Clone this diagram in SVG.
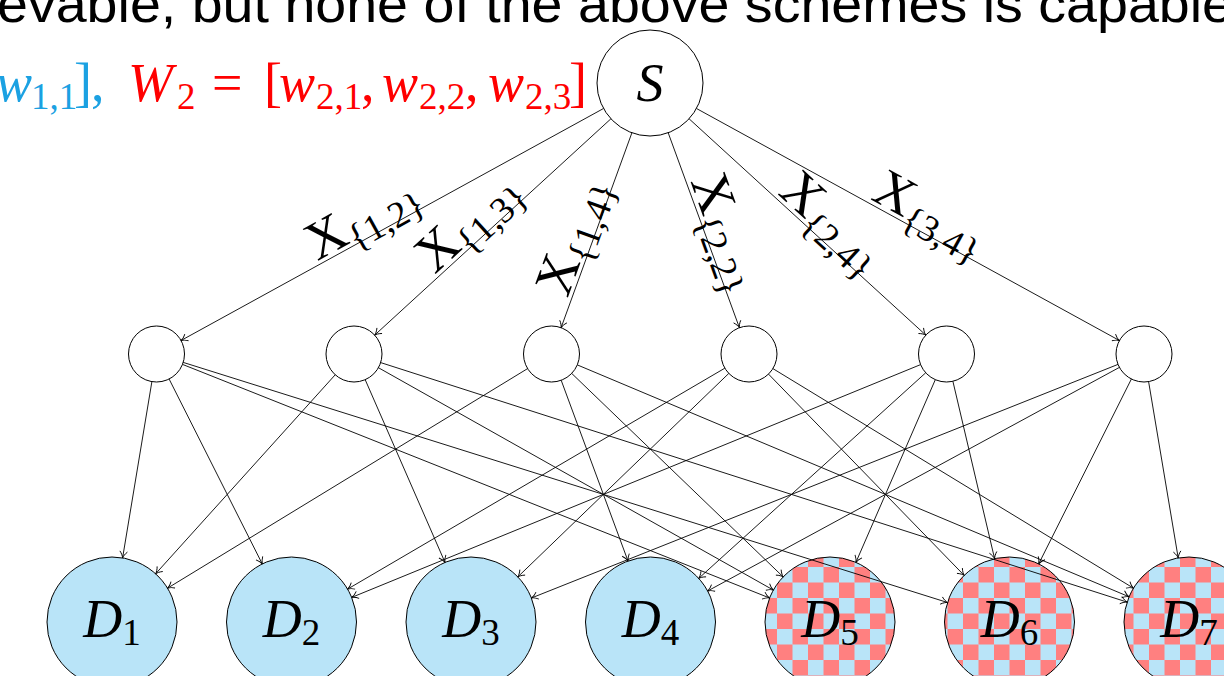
<svg xmlns="http://www.w3.org/2000/svg" width="1224" height="676" viewBox="0 0 1224 676">
<style>
.serif{font-family:"Liberation Serif","DejaVu Serif",serif}
.it{font-style:italic}
.big{font-size:54px}
.lab{font-family:"Liberation Serif","DejaVu Serif",serif;font-size:54px}
.sub{font-size:37px}
.node{stroke:#000;stroke-width:1}
.edge line{stroke:#000;stroke-width:0.9;fill:none}
</style>
<defs>
<marker id="arr" markerUnits="userSpaceOnUse" orient="auto" refX="0" refY="0" markerWidth="14" markerHeight="14" viewBox="-8 -7 10 14" overflow="visible">
<path d="M-6.5,-3.8 C-4.2,-1.6 -1.6,-0.4 0,0 C-1.6,0.4 -4.2,1.6 -6.5,3.8" fill="none" stroke="#000" stroke-width="0.9"/>
</marker>
<pattern id="checker" patternUnits="userSpaceOnUse" x="777" y="567" width="31" height="31">
<rect width="31" height="31" fill="#b9e4f8"/>
<rect x="15.5" y="0" width="15.5" height="15.5" fill="#ff8080"/>
<rect x="0" y="15.5" width="15.5" height="15.5" fill="#ff8080"/>
</pattern>
</defs>
<rect width="1224" height="676" fill="#fff"/>

<text x="-3" y="22" font-family="'Liberation Sans',Arial,sans-serif" font-size="52" textLength="1236" lengthAdjust="spacingAndGlyphs" fill="#000">evable, but none of the above schemes is capable</text>

<g id="formula" class="serif big">
<g fill="#1ba1e2">
<text x="-4" y="101" class="it">w</text>
<text x="31" y="109" class="sub">1,1</text>
<text x="74" y="101">]</text>
<text x="91" y="101">,</text>
</g>
<g fill="#ff0000">
<text x="128" y="101" class="it">W</text>
<text x="177" y="109" class="sub">2</text>
<text x="212" y="101">=</text>
<text x="264" y="101">[</text>
<text x="279" y="101" class="it">w</text>
<text x="316" y="109" class="sub">2,1</text>
<text x="361" y="101">,</text>
<text x="382" y="101" class="it">w</text>
<text x="419" y="109" class="sub">2,2</text>
<text x="465" y="101">,</text>
<text x="488" y="101" class="it">w</text>
<text x="525" y="109" class="sub">2,3</text>
<text x="569" y="101">]</text>
</g>
</g>

<g id="S">
<circle class="node" cx="650" cy="83" r="53" fill="#fff"/>
<text x="650" y="101" text-anchor="middle" class="serif it big">S</text>
</g>

<g id="M1"><circle class="node" cx="156.5" cy="354" r="28" fill="#fff"/></g>
<g id="M2"><circle class="node" cx="354" cy="354" r="28" fill="#fff"/></g>
<g id="M3"><circle class="node" cx="551.5" cy="354" r="28" fill="#fff"/></g>
<g id="M4"><circle class="node" cx="749" cy="354" r="28" fill="#fff"/></g>
<g id="M5"><circle class="node" cx="946.5" cy="354" r="28" fill="#fff"/></g>
<g id="M6"><circle class="node" cx="1144" cy="354" r="28" fill="#fff"/></g>

<g id="D1"><circle class="node" cx="112" cy="622" r="65" fill="#b9e4f8"/>
<text x="112" y="637" text-anchor="middle" class="serif big"><tspan class="it">D</tspan><tspan class="sub" dy="8">1</tspan></text></g>
<g id="D2"><circle class="node" cx="291.5" cy="622" r="65" fill="#b9e4f8"/>
<text x="291.5" y="637" text-anchor="middle" class="serif big"><tspan class="it">D</tspan><tspan class="sub" dy="8">2</tspan></text></g>
<g id="D3"><circle class="node" cx="471" cy="622" r="65" fill="#b9e4f8"/>
<text x="471" y="637" text-anchor="middle" class="serif big"><tspan class="it">D</tspan><tspan class="sub" dy="8">3</tspan></text></g>
<g id="D4"><circle class="node" cx="650.5" cy="622" r="65" fill="#b9e4f8"/>
<text x="650.5" y="637" text-anchor="middle" class="serif big"><tspan class="it">D</tspan><tspan class="sub" dy="8">4</tspan></text></g>
<g id="D5"><circle class="node" cx="830" cy="622" r="65" fill="url(#checker)"/>
<text x="830" y="637" text-anchor="middle" class="serif big"><tspan class="it">D</tspan><tspan class="sub" dy="8">5</tspan></text></g>
<g id="D6"><circle class="node" cx="1009.5" cy="622" r="65" fill="url(#checker)"/>
<text x="1009.5" y="637" text-anchor="middle" class="serif big"><tspan class="it">D</tspan><tspan class="sub" dy="8">6</tspan></text></g>
<g id="D7"><circle class="node" cx="1189" cy="622" r="65" fill="url(#checker)"/>
<text x="1189" y="637" text-anchor="middle" class="serif big"><tspan class="it">D</tspan><tspan class="sub" dy="8">7</tspan></text></g>

<g id="connectors" class="edge">
<line x1="603.5" y1="108.5" x2="181" y2="340.5" marker-end="url(#arr)"/>
<line x1="610.9" y1="118.8" x2="374.7" y2="335.1" marker-end="url(#arr)"/>
<line x1="631.9" y1="132.8" x2="561.1" y2="327.7" marker-end="url(#arr)"/>
<line x1="668.2" y1="132.8" x2="739.4" y2="327.7" marker-end="url(#arr)"/>
<line x1="689.1" y1="118.8" x2="925.8" y2="335.1" marker-end="url(#arr)"/>
<line x1="696.5" y1="108.5" x2="1119.4" y2="340.5" marker-end="url(#arr)"/>

<line x1="151.9" y1="381.6" x2="122.6" y2="557.9" marker-end="url(#arr)"/>
<line x1="169.1" y1="379" x2="262.3" y2="564" marker-end="url(#arr)"/>
<line x1="182.5" y1="364.4" x2="769.6" y2="598" marker-end="url(#arr)"/>
<line x1="183.2" y1="362.4" x2="947.5" y2="602.5" marker-end="url(#arr)"/>
<line x1="335.2" y1="374.8" x2="155.6" y2="573.8" marker-end="url(#arr)"/>
<line x1="365.2" y1="379.7" x2="445" y2="562.4" marker-end="url(#arr)"/>
<line x1="378.4" y1="367.7" x2="773.4" y2="590.1" marker-end="url(#arr)"/>
<line x1="380.7" y1="362.6" x2="1127.1" y2="602.1" marker-end="url(#arr)"/>
<line x1="527.6" y1="368.6" x2="167.5" y2="588.2" marker-end="url(#arr)"/>
<line x1="561.2" y1="380.3" x2="628" y2="561" marker-end="url(#arr)"/>
<line x1="571.7" y1="373.4" x2="783.2" y2="576.9" marker-end="url(#arr)"/>
<line x1="577.3" y1="364.9" x2="1129.1" y2="596.8" marker-end="url(#arr)"/>
<line x1="724.8" y1="368.2" x2="347.6" y2="589.1" marker-end="url(#arr)"/>
<line x1="728.8" y1="373.4" x2="517.8" y2="576.9" marker-end="url(#arr)"/>
<line x1="768.5" y1="374.1" x2="964.2" y2="575.4" marker-end="url(#arr)"/>
<line x1="772.9" y1="368.6" x2="1133.5" y2="588.2" marker-end="url(#arr)"/>
<line x1="920.6" y1="364.6" x2="351.7" y2="597.4" marker-end="url(#arr)"/>
<line x1="925.7" y1="372.8" x2="698.7" y2="578.4" marker-end="url(#arr)"/>
<line x1="935.3" y1="379.7" x2="855.9" y2="562.4" marker-end="url(#arr)"/>
<line x1="952.9" y1="381.3" x2="994.6" y2="558.7" marker-end="url(#arr)"/>
<line x1="1118" y1="364.4" x2="531.4" y2="598" marker-end="url(#arr)"/>
<line x1="1119.4" y1="367.4" x2="707.6" y2="591" marker-end="url(#arr)"/>
<line x1="1131.4" y1="379" x2="1038.7" y2="563.9" marker-end="url(#arr)"/>
<line x1="1148.6" y1="381.6" x2="1178.2" y2="557.9" marker-end="url(#arr)"/>
</g>

<g id="edge-labels" class="lab">
<text transform="translate(372.1,235.6) rotate(-28.8)" x="0" y="-4" text-anchor="middle">X<tspan class="sub" dy="10">{1,2}</tspan></text>
<text transform="translate(482,236.8) rotate(-42.5)" x="0" y="-4" text-anchor="middle">X<tspan class="sub" dy="10">{1,3}</tspan></text>
<text transform="translate(591.9,243) rotate(-70)" x="0" y="-4" text-anchor="middle">X<tspan class="sub" dy="10">{1,4}</tspan></text>
<text transform="translate(707,239.1) rotate(70.1)" x="0" y="-4" text-anchor="middle">X<tspan class="sub" dy="10">{2,2}</tspan></text>
<text transform="translate(818.9,237.4) rotate(42.4)" x="0" y="-4" text-anchor="middle">X<tspan class="sub" dy="10">{2,4}</tspan></text>
<text transform="translate(920.9,231.6) rotate(28.7)" x="0" y="-4" text-anchor="middle">X<tspan class="sub" dy="10">{3,4}</tspan></text>
</g>
</svg>
